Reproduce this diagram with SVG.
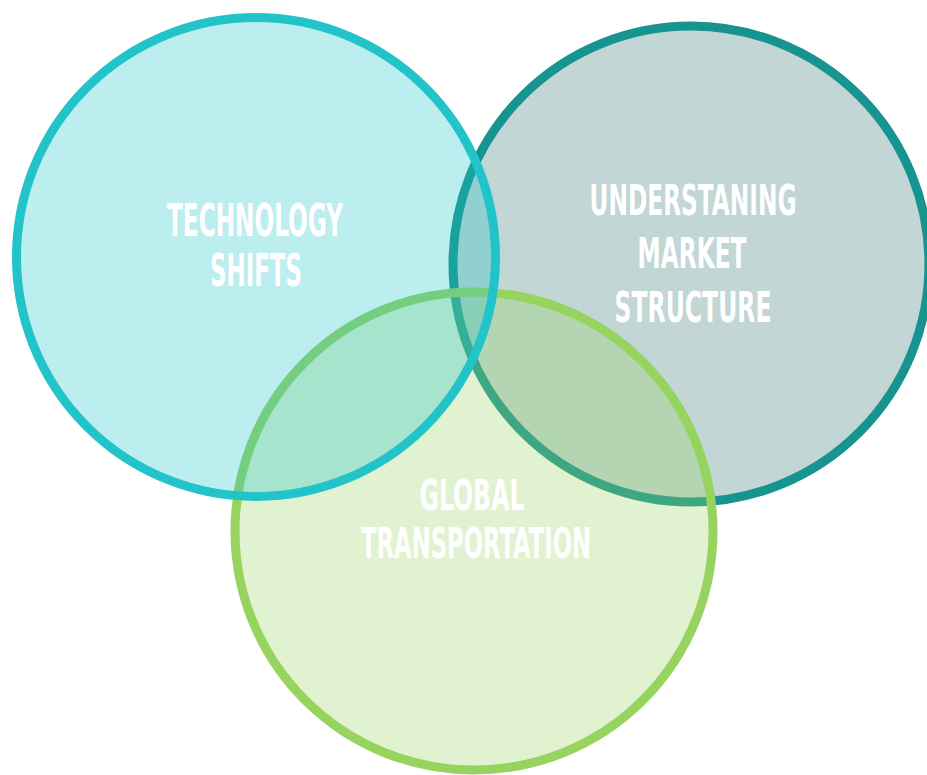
<svg xmlns="http://www.w3.org/2000/svg" width="927" height="775" viewBox="0 0 927 775">
  <style>
    .ring { stroke-width: 9; }
    .label { font-family: "Liberation Sans Narrow", "DejaVu Sans Condensed", "Liberation Sans", sans-serif; font-stretch: condensed; font-weight: bold; font-size: 43px; fill: #ffffff; text-anchor: middle; }
    .big { font-size: 45px; }
  </style>
  <rect width="927" height="775" fill="#ffffff"/>

  <!-- market structure: bottom layer -->
  <g id="market-structure">
    <circle class="ring" cx="691" cy="264" r="238" fill="#c1d6d5" stroke="#179490"/>
  </g>

  <!-- global transportation: middle layer -->
  <g id="global-transportation">
    <circle class="ring" cx="474" cy="531" r="239" fill="#97d35f" fill-opacity="0.3" stroke="#97d35f"/>
  </g>

  <!-- technology shifts: top layer -->
  <g id="technology-shifts">
    <circle class="ring" cx="256" cy="257" r="239.5" fill="#22c3c9" fill-opacity="0.3" stroke="#22c3c9"/>
  </g>

  <g id="connectors"></g>

  <!-- labels -->
  <g id="labels">
    <text class="label big" x="255" y="236" textLength="176" lengthAdjust="spacingAndGlyphs">TECHNOLOGY</text>
    <text class="label big" x="256" y="286" textLength="92" lengthAdjust="spacingAndGlyphs">SHIFTS</text>
    <text class="label" x="693" y="215" textLength="207" lengthAdjust="spacingAndGlyphs">UNDERSTANING</text>
    <text class="label" x="692" y="268" textLength="109" lengthAdjust="spacingAndGlyphs">MARKET</text>
    <text class="label" x="693" y="322" textLength="157" lengthAdjust="spacingAndGlyphs">STRUCTURE</text>
    <text class="label" x="472" y="510" textLength="105" lengthAdjust="spacingAndGlyphs">GLOBAL</text>
    <text class="label" x="476" y="558" textLength="230" lengthAdjust="spacingAndGlyphs">TRANSPORTATION</text>
  </g>
</svg>
